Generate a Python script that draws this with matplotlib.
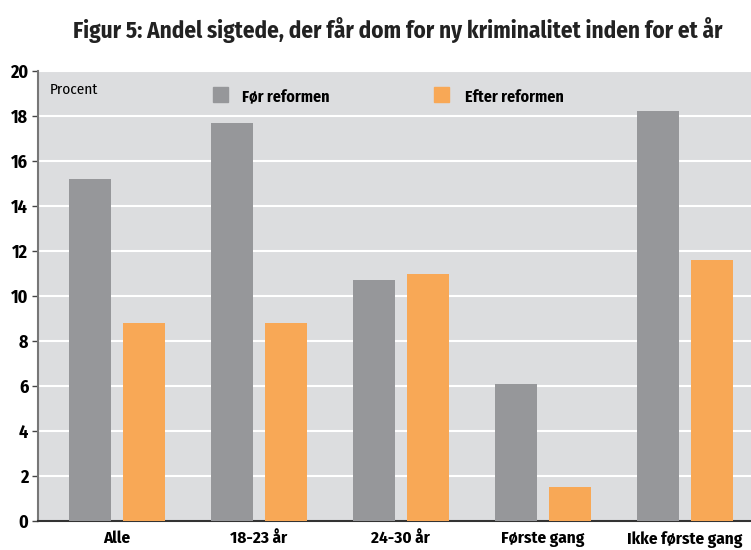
import numpy as np
import matplotlib.pyplot as plt

categories = ['Alle', '18-23 år', '24-30 år', 'Første gang', 'Ikke første gang']
foer = [15.2, 17.7, 10.7, 6.1, 18.2]
efter = [8.8, 8.8, 11.0, 1.5, 11.6]

plt.rcParams['font.family'] = ['Fira Sans Condensed', 'Roboto Condensed', 'DejaVu Sans']

grey = '#96979a'
orange = '#f8a856'

fig = plt.figure(figsize=(7.51, 5.5), dpi=100)
ax = fig.add_axes([38/751, 29/550, 713/751, 450/550])
ax.set_facecolor('#dcdddf')

x = np.arange(len(categories))
w = 0.3
ax.bar(x - 0.19, foer, w, color=grey, zorder=3)
ax.bar(x + 0.19, efter, w, color=orange, zorder=3)

ax.set_ylim(0, 20)
ax.set_xlim(-0.556, 4.466)
ax.set_yticks(range(0, 21, 2))
ax.yaxis.grid(True, color='white', linewidth=1.5, zorder=1)
ax.set_xticks(x)
ax.set_xticklabels(categories, fontsize=12.3, fontweight='bold')
ax.tick_params(axis='x', length=0, pad=7)
ax.tick_params(axis='y', length=4, width=1, color='#444444', labelsize=13, pad=3)
for lab in ax.get_yticklabels():
    lab.set_fontweight('bold')

for s in ['top', 'right']:
    ax.spines[s].set_visible(False)
ax.spines['bottom'].set_color('#333333')
ax.spines['bottom'].set_linewidth(1.5)
ax.spines['left'].set_color('#777777')
ax.spines['left'].set_linewidth(1.5)

fig.text(50/751, 1 - 90/550, 'Procent', fontsize=11, va='center', ha='left')

fig.patches.append(plt.Rectangle((213/751, 1 - 102/550), 15/751, 15/550,
                                 transform=fig.transFigure, color=grey))
fig.text(242/751, 1 - 97/550, 'Før reformen', fontsize=11.5, fontweight='bold', va='center')
fig.patches.append(plt.Rectangle((434/751, 1 - 102/550), 15/751, 15/550,
                                 transform=fig.transFigure, color=orange))
fig.text(465/751, 1 - 97/550, 'Efter reformen', fontsize=11.5, fontweight='bold', va='center')

fig.text(0.529, 1 - 30/550, 'Figur 5: Andel sigtede, der får dom for ny kriminalitet inden for et år',
         ha='center', va='center', fontsize=16.6, fontweight='bold', color='#222222')

fig.savefig('out.png', dpi=100)
